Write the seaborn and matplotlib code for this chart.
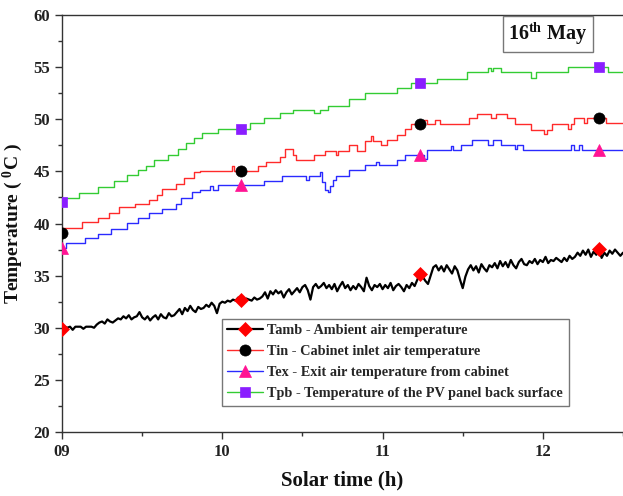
import numpy as np
import pandas as pd
import matplotlib
matplotlib.use("Agg")
import matplotlib.pyplot as plt
import seaborn as sns

# ---- data (1-minute resolution from 09:00) ----
minutes = np.arange(0, 211)            # 09:00 .. 12:30
time_h = 9 + minutes / 60.0

# Tamb (noisy) - per minute values
tamb = [29.9, 30.1, 30.0, 30.1, 29.8, 30.1, 30.1, 30.1, 29.9, 30.1, 30.1, 30.1, 30.0,
        30.3, 30.5, 30.6, 30.4, 30.8, 30.6, 30.5, 30.7,
        30.9, 30.8, 31.1, 30.9, 31.2, 30.8, 31.0, 31.1, 31.5, 31.0, 30.8, 31.1,
        30.7, 31.0, 31.2, 30.8, 31.3, 31.0, 30.9, 31.4, 31.1, 31.2,
        31.5, 31.8, 31.3, 31.9, 31.6, 32.1, 31.7, 31.5, 32.0, 31.8, 31.9,
        32.2, 32.0, 32.4, 32.1, 31.4, 32.3, 32.5,
        32.4, 32.6, 32.5, 32.7, 32.6, 32.9, 32.7,
        32.6, 32.8, 32.7, 32.6, 32.9, 32.7, 32.8, 33.0,
        33.4, 32.8, 33.5, 33.2, 33.6, 33.3, 33.5,
        32.9, 33.4, 33.7, 33.2, 33.5, 33.8, 33.4,
        33.9, 34.1, 33.6, 32.7, 33.9, 34.2, 33.8, 34.0,
        34.3, 33.8, 34.1, 33.7, 34.2, 33.5, 34.0, 34.4, 33.8, 34.1,
        33.6, 34.0, 33.7, 34.2, 33.9, 33.5, 34.8, 34.0, 33.6, 34.1, 33.9, 34.2, 33.7,
        34.1, 33.8, 34.3, 33.6, 34.0, 34.2, 33.9, 33.5, 34.1, 33.8, 34.3, 34.0, 34.6,
        35.2, 34.9, 34.5, 34.2, 35.0, 35.8, 36.0, 35.5,
        35.9, 35.4, 36.0, 35.6, 35.2, 35.9, 35.5, 34.6, 33.8, 34.9,
        35.6, 36.0, 35.5, 35.9, 35.3, 36.1, 35.7, 35.4, 36.0, 35.8,
        36.2, 35.7, 36.4, 35.9, 36.3, 35.8, 36.5, 36.0, 35.7, 36.3, 36.6, 36.1,
        36.0, 36.4, 36.2, 36.6, 36.1, 36.5, 36.3, 36.8, 36.2, 36.5, 36.4, 36.7,
        36.5, 36.3, 36.7, 36.4, 36.9, 36.6, 36.8, 37.2, 36.9, 37.4,
        37.0, 37.5, 36.8, 37.3, 37.0, 37.6, 36.7, 37.2, 36.9, 37.4, 37.1, 37.5, 37.2, 36.9, 37.2]

# Stepped series: level and duration (minutes) of each step
tin_levels = [39.1, 39.55, 40.1, 40.5, 41.0, 41.55, 41.9, 42.3, 42.7, 43.3, 43.8, 44.35, 44.9,
              45.05, 45.5, 45.05, 45.5, 45.9, 46.4, 47.1, 46.55, 46.1, 46.6, 46.95, 46.6,
              46.95, 47.5, 46.95, 47.9, 48.4, 47.9, 47.5, 48.0, 48.5, 49.1, 49.55, 49.9,
              49.55, 49.9, 49.55, 50.1, 50.5, 50.1, 50.5, 50.1, 49.55, 49.0, 48.6, 49.0,
              49.55, 49.1, 49.55, 50.1, 49.6, 50.1, 49.6]
tin_steps = [1, 7, 6, 4, 4, 6, 5, 3, 2, 5, 3, 4, 2,
             12, 1, 9, 3, 5, 2, 3, 1, 7, 4, 4, 1,
             4, 3, 3, 2, 1, 3, 2, 4, 3, 2, 5, 1,
             3, 2, 11, 3, 5, 2, 4, 3, 6, 5, 1, 2,
             6, 1, 1, 4, 1, 7, 7]

tex_levels = [37.65, 38.1, 38.6, 39.0, 39.5, 40.05, 40.5, 41.0, 41.4, 41.9, 42.45, 43.05,
              43.2, 43.6, 43.2, 43.7, 44.1, 44.6, 44.2, 44.6, 44.9, 44.0, 43.2, 43.0, 43.6,
              44.2, 44.6, 45.1, 45.6, 45.9, 45.6, 46.1, 46.6, 46.2, 47.05, 47.4, 47.05,
              47.5, 48.0, 47.5, 48.0, 47.5, 47.1, 47.5, 47.05, 47.5, 47.05, 47.5, 47.05]
tex_steps = [2, 7, 5, 5, 6, 4, 4, 5, 5, 2, 4, 3,
             4, 1, 2, 17, 7, 9, 1, 4, 1, 1, 1, 1, 1,
             1, 5, 6, 4, 1, 7, 3, 7, 1, 9, 1, 3,
             4, 6, 2, 3, 5, 1, 2, 18, 1, 2, 1, 16]

tpb_levels = [42.1, 42.4, 42.95, 43.5, 44.1, 44.65, 45.1, 45.5, 46.1, 46.6, 47.1, 47.7, 48.2,
              48.7, 49.1, 49.6, 50.1, 50.6, 50.9, 50.6, 50.9, 51.3, 51.9, 52.5, 52.95, 53.45,
              53.9, 54.5, 54.9, 54.6, 54.9, 54.5, 54.0, 54.5, 55.05, 54.5]
tpb_steps = [1, 6, 7, 6, 5, 4, 3, 3, 5, 4, 3, 3, 3,
             6, 12, 5, 6, 5, 8, 2, 3, 8, 6, 12, 5, 10,
             11, 8, 1, 1, 3, 11, 2, 12, 15, 6]

labels = ["Tamb - Ambient air temperature",
          "Tin - Cabinet inlet air temperature",
          "Tex - Exit air temperature from cabinet",
          "Tpb - Temperature of the PV panel back surface"]

x_ticks = [9, 10, 11, 12]
x_ticklabels = ["09", "10", "11", "12"]
y_ticks = [20, 25, 30, 35, 40, 45, 50, 55, 60]

tin = np.repeat(tin_levels, tin_steps)
tex = np.repeat(tex_levels, tex_steps)
tpb = np.repeat(tpb_levels, tpb_steps)

df = pd.DataFrame({"t": time_h, "Tamb": tamb, "Tin": tin, "Tex": tex, "Tpb": tpb})

# ---- style ----
sns.set_theme(style="ticks")
plt.rcParams["font.family"] = ["Liberation Serif", "DejaVu Serif"]
plt.rcParams["font.weight"] = "bold"
plt.rcParams["mathtext.fontset"] = "custom"
plt.rcParams["mathtext.rm"] = "Liberation Serif"
plt.rcParams["mathtext.bf"] = "Liberation Serif:bold"
plt.rcParams["mathtext.it"] = "Liberation Serif:italic"

fig = plt.figure(figsize=(6.23, 4.96), dpi=100)
ax = fig.add_axes([62 / 623, 1 - 432 / 496, 1 - 62 / 623, (432 - 15) / 496])

series = [
    ("Tamb", "black", "D", "#ff0000", 1.6, 7.5, False),
    ("Tin", "#ff2a2a", "o", "black", 1.0, 8, True),
    ("Tex", "#2a2aff", "^", "#ff1493", 1.0, 8, True),
    ("Tpb", "#33cc33", "s", "#8a1eff", 1.0, 7, True),
]
for (col, lc, mk, mc, lw, ms, step), lab in zip(series, labels):
    kw = dict(drawstyle="steps-mid") if step else {}
    sns.lineplot(data=df, x="t", y=col, ax=ax, color=lc, linewidth=lw,
                 marker=mk, markevery=67, markersize=ms,
                 markerfacecolor=mc, markeredgecolor=mc, markeredgewidth=0.5,
                 label=lab, zorder=3, **kw)

ax.set_xlim(9, 12.465)
ax.set_ylim(20, 60)
ax.set_xticks(x_ticks)
ax.set_xticklabels(x_ticklabels)
ax.set_xticks([9.5, 10.5, 11.5, 12.5], minor=True)
ax.set_yticks(y_ticks)
ax.set_yticks(np.arange(22.5, 60, 5), minor=True)
ax.tick_params(axis="both", which="major", direction="out", length=5, width=1,
               labelsize=12, colors="#333333", labelcolor="#222222")
ax.tick_params(axis="both", which="minor", direction="out", length=3, width=1, colors="#333333")
for lbl in ax.get_xticklabels() + ax.get_yticklabels():
    lbl.set_fontweight("bold")
for side in ["left", "bottom", "top"]:
    ax.spines[side].set_color("#333333")
    ax.spines[side].set_linewidth(1.0)
ax.spines["right"].set_visible(False)
ax.spines["top"].set_visible(True)

ax.set_xlabel("Solar time (h)", fontsize=15, fontweight="bold", labelpad=8, color="#111111")
ax.set_ylabel(r"Temperature ( $^{\mathbf{0}}$C )", fontsize=14, fontweight="bold",
              labelpad=6, color="#111111")

handles, labs = ax.get_legend_handles_labels()
leg = ax.legend(handles, labs, loc="upper left",
                bbox_to_anchor=(222 / 623, 1 - 319 / 496), bbox_transform=fig.transFigure,
                prop={"family": "Liberation Serif", "weight": "bold", "size": 10.3},
                frameon=True, fancybox=False, edgecolor="#777777", framealpha=1,
                handlelength=2.5, handletextpad=0.3, labelspacing=0.55, borderpad=0.38,
                borderaxespad=0)
leg.get_frame().set_linewidth(1.0)

fig.text(548 / 623, 1 - 34 / 496, r"16$^{\mathbf{th}}$ May", ha="center", va="center",
         fontsize=14.5, fontweight="bold", color="#111111",
         bbox=dict(boxstyle="square,pad=0.25", facecolor="white", edgecolor="#777777", linewidth=1))

fig.savefig("out.png", dpi=100)
